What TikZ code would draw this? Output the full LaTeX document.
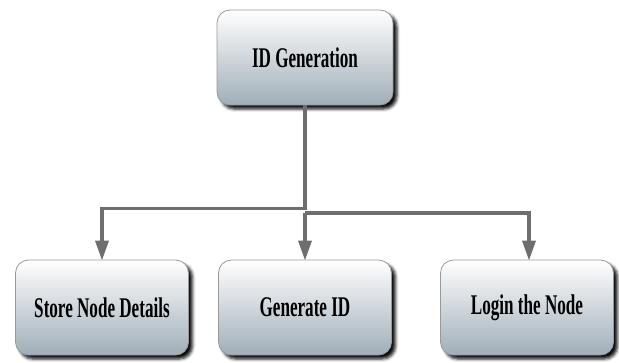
\documentclass[tikz,border=0pt]{standalone}
\usepackage{fontspec}
\usepackage{tikz}
\usetikzlibrary{arrows.meta}
\usetikzlibrary{shadows.blur}
\newfontfamily\boxfont[FakeStretch=0.6]{Liberation Serif}
\definecolor{boxbottom}{RGB}{160,174,184}
\definecolor{flowgray}{RGB}{110,110,110}

\begin{document}
\begin{tikzpicture}[x=1pt, y=-1pt,
		idbox/.style={draw=gray!80, line width=0.8pt, rounded corners=13pt,
			minimum width=173pt, minimum height=95pt,
			top color=white, bottom color=boxbottom,
			blur shadow={shadow xshift=4pt, shadow yshift=-4pt, shadow opacity=95, shadow blur steps=4, shadow blur radius=3pt},
			font=\boxfont\bfseries\fontsize{28.5}{30}\selectfont},
		flow/.style={line width=3.5pt, flowgray, -{Triangle[width=13pt, length=20pt]}}]
			\useasboundingbox (0,0) rectangle (619,362);
			\node[idbox, minimum width=176pt] (gen) at (305,57.5) {ID Generation};
			\node[idbox] (store) at (102,307.5) {Store Node Details};
			\node[idbox] (makeid) at (305,307.5) {Generate ID};
			\node[idbox] (login) at (527,307.5) {Login the Node};
			\coordinate (split) at (305,213);
			\draw[flow] (gen.south) -- ++(0,103) -| ([yshift=-1pt]store.north);
			\draw[flow] (split) -- ([yshift=-1pt]makeid.north);
			\draw[flow] (split) -| ([xshift=2pt, yshift=-1pt]login.north);
		\end{tikzpicture}
\end{document}
